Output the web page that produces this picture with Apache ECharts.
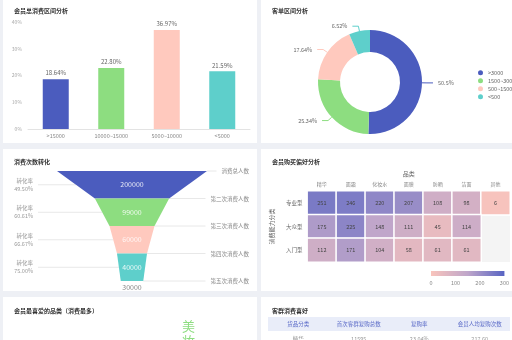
<!DOCTYPE html>
<html>
<head>
<meta charset="utf-8">
<script src="https://cdn.jsdelivr.net/npm/echarts@6/dist/echarts.min.js"></script>
<style>
html,body{margin:0;padding:0;width:512px;height:340px;overflow:hidden;background:#eef0f5;}
.card{position:absolute;background:#fff;overflow:hidden;}
</style>
</head>
<body>
<div class="card" id="spend" style="left:3px;top:0;width:254px;height:143px"></div>
<div class="card" id="order" style="left:261px;top:0;width:251px;height:143px"></div>
<div class="card" id="funnel" style="left:3px;top:149px;width:254px;height:142px"></div>
<div class="card" id="pref" style="left:261px;top:149px;width:251px;height:142px"></div>
<div class="card" id="fav" style="left:3px;top:297px;width:254px;height:50px"></div>
<div class="card" id="table" style="left:261px;top:297px;width:251px;height:50px"></div>
<script>
"use strict";

const palette = ["#4b5cbe", "#8ddd80", "#ffc9be", "#5ecfcb"];
const heatColors = ["#f9c4bc", "#bfa6ca", "#5864c3"];
const font = "\"Noto Sans CJK SC\", \"Noto Sans\", sans-serif";

// 会员总消费区间分析
const spendCats = [">15000", "10000~15000", "5000~10000", "<5000"];
const spendShare = [18.64, 22.80, 36.97, 21.59];

// 客单区间分析
const orderCats = [">3000", "1500~3000", "500~1500", "<500"];
const orderShare = [50.5, 25.34, 17.64, 6.52];

// 消费次数转化
const stageNames = ["消费总人数", "第二次消费人数", "第三次消费人数", "第四次消费人数", "第五次消费人数"];
const stageCounts = [200000, 99000, 60000, 40000, 30000];
const stageRates = ["49.50%", "60.61%", "66.67%", "75.00%"];

// 会员购买偏好分析
const prefCats = ["精华", "面霜", "化妆水", "面膜", "防晒", "洁面", "其他"];
const prefGroups = ["专业型", "大众型", "入门型"];
const prefValues = [
	[251, 246, 220, 207, 108, 98, 6],
	[175, 225, 148, 111, 45, 114, null],
	[112, 171, 104, 58, 61, 61, null]
];
const prefMax = 300;

// 会员最喜爱的品类
const favWords = ["美妆"];

// 客群消费喜好
const tableHead = ["货品分类", "首次客群复购总数", "复购率", "会员人均复购次数"];
const tableRows = [["精华", "11595", "23.04%", "217.60"]];

function title(text, top){
	return {text:text, left:6, top:top, textStyle:{fontSize:6, color:"#333", fontWeight:"bold", fontFamily:font}};
}

const spendChart = echarts.init(document.getElementById("spend"));
spendChart.setOption({
	animation:false,
	textStyle:{fontFamily:font},
	title:title("会员总消费区间分析", 3),
	grid:{left:25, right:7, top:22, bottom:14},
	xAxis:{
		type:"category", data:spendCats,
		axisLine:{lineStyle:{color:"#e3e3e3"}},
		axisTick:{length:3, lineStyle:{color:"#e3e3e3"}},
		axisLabel:{fontSize:5.5, color:"#888", margin:4, interval:0, width:36, overflow:"truncate", ellipsis:"..."}
	},
	yAxis:{
		type:"value", min:0, max:40, interval:10,
		axisLabel:{fontSize:5, color:"#aaa", margin:6, formatter:"{value}%"},
		splitLine:{show:false}
	},
	series:[{
		type:"bar", barWidth:26,
		data:spendShare.map((v, i)=>({value:v, itemStyle:{color:palette[i]}})),
		label:{show:true, position:"top", distance:3, fontSize:6, color:"#666", formatter:(p)=>p.value.toFixed(2) + "%"}
	}]
});

const orderChart = echarts.init(document.getElementById("order"));
orderChart.setOption({
	animation:false,
	textStyle:{fontFamily:font},
	title:title("客单区间分析", 3),
	legend:{
		orient:"vertical", left:212, top:65, icon:"circle", itemWidth:5, itemHeight:5, itemGap:2.5,
		textStyle:{fontSize:5.5, color:"#666"}, data:orderCats
	},
	series:[{
		type:"pie", center:[109, 82], radius:[30, 52], startAngle:90,
		data:orderShare.map((v, i)=>({name:orderCats[i], value:v, itemStyle:{color:palette[i]}})),
		label:{fontSize:5.5, color:"#666", formatter:"{c}%"},
		labelLine:{length:5, length2:6},
		emphasis:{disabled:true}
	}]
});

// funnel geometry, used only to size the label lines
const fLeft = 54, fTop = 22, fWidth = 150, fHeight = 110, fMax = 200000;
const fCenter = fLeft + fWidth / 2;
const wAt = (v)=>fWidth * v / fMax;
const last = stageCounts.length - 1;
const stageHeight = (i)=>(i < last ? "25%" : 0);
const rightLabelEnd = 247;
const labelFont = 5.5;
const funnelBase = {
	type:"funnel", left:fLeft, top:fTop, width:fWidth, height:fHeight,
	min:0, max:fMax, minSize:"0%", maxSize:"100%", sort:"none", gap:0,
	emphasis:{disabled:true}, silent:true
};

const funnelChart = echarts.init(document.getElementById("funnel"));
funnelChart.setOption({
	animation:false,
	textStyle:{fontFamily:font},
	title:title("消费次数转化", 5),
	series:[
		Object.assign({}, funnelBase, {
			z:3,
			itemStyle:{borderWidth:0},
			label:{position:"inside", fontSize:7, color:"rgba(255,255,255,0.85)", formatter:"{c}"},
			data:stageCounts.map((v, i)=>({
				name:stageNames[i], value:v,
				itemStyle:{color:palette[i] || "transparent", height:stageHeight(i)},
				label:i === last ? {color:"#888", formatter:"\n{c}", lineHeight:12} : undefined
			}))
		}),
		Object.assign({}, funnelBase, {
			z:2,
			itemStyle:{color:"transparent", borderWidth:0},
			label:{position:"rightTop", fontSize:labelFont, color:"#888", formatter:"{b}"},
			labelLine:{show:true, lineStyle:{color:"#e2e2e2", width:0.8}},
			data:stageCounts.map((v, i)=>({
				name:stageNames[i], value:v,
				itemStyle:{height:stageHeight(i)},
				labelLine:{length:rightLabelEnd - stageNames[i].length * labelFont - 6 - (fCenter + wAt(v) / 2)}
			}))
		}),
		Object.assign({}, funnelBase, {
			z:2,
			itemStyle:{color:"transparent", borderWidth:0},
			label:{position:"left", fontSize:labelFont, color:"#999", lineHeight:8},
			labelLine:{show:true, lineStyle:{color:"#e2e2e2", width:0.8}},
			data:stageCounts.map((v, i)=>{
				const next = i < last ? stageCounts[i + 1] : v;
				return {
					name:stageNames[i], value:v,
					itemStyle:{height:stageHeight(i)},
					label:i < last ? {formatter:"转化率\n" + stageRates[i]} : {show:false},
					labelLine:i < last ? {length:fCenter - (wAt(v) + wAt(next)) / 4 - 35} : {show:false}
				};
			})
		})
	]
});

const heatData = [];
prefValues.forEach((row, r)=>{
	row.forEach((v, c)=>{
		if(v !== null) heatData.push([c, r, v]);
	});
});

const prefChart = echarts.init(document.getElementById("pref"));
prefChart.setOption({
	animation:false,
	textStyle:{fontFamily:font},
	title:title("会员购买偏好分析", 5),
	grid:[
		{left:44, right:2, top:42, bottom:29, show:true, backgroundColor:"#f4f4f4", borderWidth:0},
		{left:170, top:122, width:78, height:5}
	],
	xAxis:[
		{
			type:"category", data:prefCats, position:"top",
			name:"品类", nameLocation:"middle", nameGap:14, nameTextStyle:{fontSize:6, color:"#666"},
			axisLine:{show:false}, axisTick:{show:false},
			axisLabel:{fontSize:5, color:"#888", margin:4}
		},
		{
			type:"value", gridIndex:1, min:0, max:prefMax, interval:100,
			axisLine:{show:false}, axisTick:{show:false}, splitLine:{show:false},
			axisLabel:{fontSize:5.5, color:"#888", margin:4}
		}
	],
	yAxis:[
		{
			type:"category", data:prefGroups, inverse:true,
			name:"消费能力分类", nameLocation:"middle", nameGap:25, nameTextStyle:{fontSize:6, color:"#666"},
			axisLine:{show:false}, axisTick:{show:false},
			axisLabel:{fontSize:5.5, color:"#666", margin:5}
		},
		{type:"category", gridIndex:1, data:["scale"], show:false}
	],
	visualMap:{
		type:"continuous", show:false, min:0, max:prefMax, seriesIndex:0,
		inRange:{color:heatColors}
	},
	series:[
		{
			type:"heatmap", data:heatData,
			label:{show:true, fontSize:5.5, color:"#444"},
			itemStyle:{borderColor:"#fff", borderWidth:1.5},
			emphasis:{disabled:true}
		},
		{
			type:"bar", xAxisIndex:1, yAxisIndex:1, data:[prefMax], barWidth:5, silent:true,
			itemStyle:{color:new echarts.graphic.LinearGradient(0, 0, 1, 0, heatColors.map((c, i)=>({offset:i / (heatColors.length - 1), color:c})))}
		}
	]
});

const favChart = echarts.init(document.getElementById("fav"));
favChart.setOption({
	animation:false,
	title:title("会员最喜爱的品类（消费最多）", 6),
	graphic:favWords.map((w)=>({
		type:"text", left:179, top:22,
		style:{text:w.split("").join("\n"), fontSize:13, lineHeight:15, fill:"#8ddd80", fontFamily:font}
	}))
});

const colW = 242 / tableHead.length;
const tableChart = echarts.init(document.getElementById("table"));
tableChart.setOption({
	animation:false,
	title:title("客群消费喜好", 6),
	graphic:[
		{type:"rect", shape:{x:7, y:20, width:242, height:14}, style:{fill:"#e9edf9"}}
	].concat(tableHead.map((h, i)=>({
		type:"text",
		style:{text:h, x:7 + colW * (i + 0.5), y:27, align:"center", verticalAlign:"middle", fontSize:5.5, fill:"#5b6bc8", fontFamily:font}
	}))).concat(...tableRows.map((row, r)=>row.map((t, i)=>({
		type:"text",
		style:{text:t, x:7 + colW * (i + 0.5), y:42 + r * 14, align:"center", verticalAlign:"middle", fontSize:5.5, fill:"#999", fontFamily:font}
	}))))
});
</script>
</body>
</html>
